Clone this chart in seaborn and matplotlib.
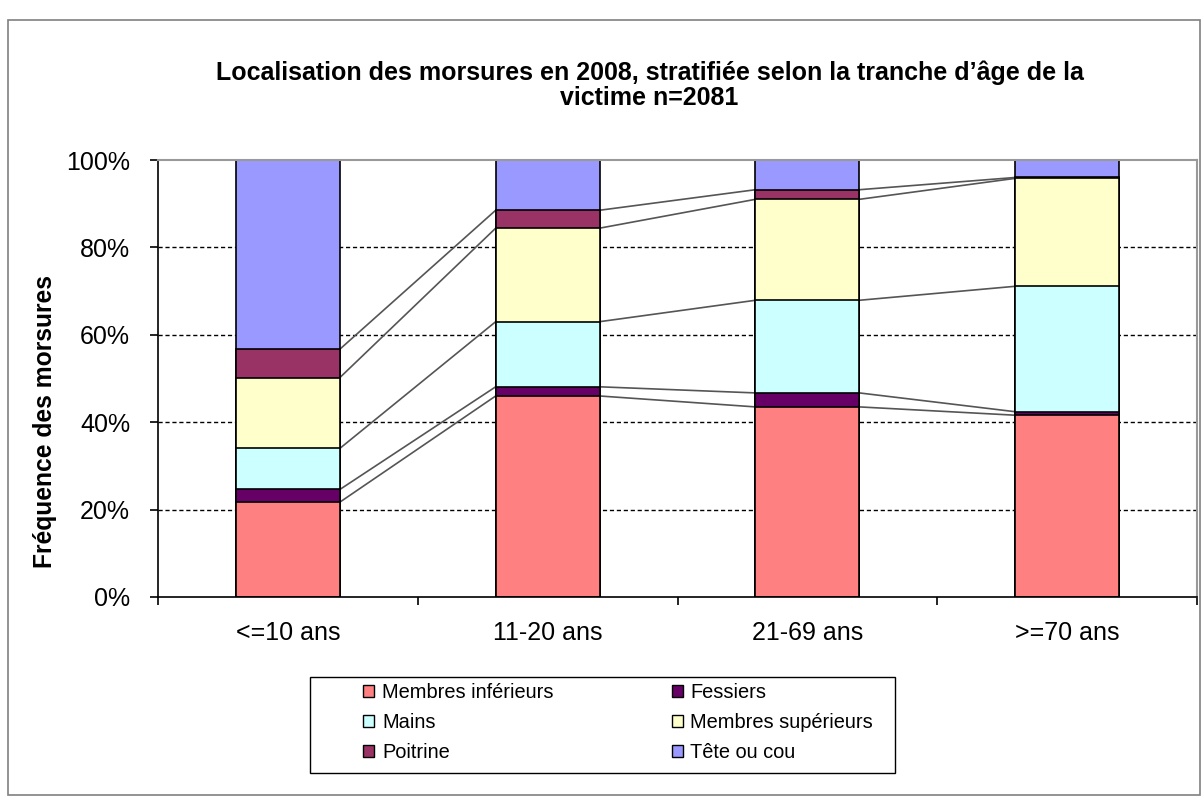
import numpy as np
import seaborn as sns
import matplotlib.pyplot as plt
from matplotlib.patches import Patch, Rectangle

groupes = ["<=10 ans", "11-20 ans", "21-69 ans", ">=70 ans"]
series = ["Membres inférieurs", "Fessiers", "Mains", "Membres supérieurs", "Poitrine", "Tête ou cou"]
membres_inf = [21.7, 46.0, 43.5, 41.6]
fessiers = [2.9, 2.1, 3.2, 0.8]
mains = [9.4, 14.9, 21.2, 28.7]
membres_sup = [16.2, 21.4, 23.1, 24.7]
poitrine = [6.5, 4.1, 2.2, 0.2]
tete_cou = [43.3, 11.5, 6.8, 4.0]
couleurs = ["#FF8080", "#660066", "#CCFFFF", "#FFFFCC", "#993366", "#9999FF"]

sns.set_style("white")
plt.rcParams["font.family"] = ["Liberation Sans", "DejaVu Sans"]
plt.rcParams["text.color"] = "black"
plt.rcParams["xtick.color"] = "black"
plt.rcParams["ytick.color"] = "black"

valeurs = np.array([membres_inf, fessiers, mains, membres_sup, poitrine, tete_cou])
cumul = valeurs.cumsum(axis=0)

fig = plt.figure(figsize=(12.03, 7.99), dpi=100)
ax = fig.add_axes([158 / 1203, 1 - 597 / 799, 1039 / 1203, 437 / 799])

# dashed gridlines behind everything
for yv in [20, 40, 60, 80]:
    ax.axhline(yv, color="black", lw=1, ls=(0, (3, 2)), zorder=0)

# stacked bars: draw the tallest cumulative first, then overlay the lower ones
for k in range(len(series) - 1, -1, -1):
    sns.barplot(x=groupes, y=cumul[k], color=couleurs[k], saturation=1, width=0.4,
                edgecolor="black", linewidth=1.2, ax=ax, zorder=2)

# series lines between bars
for k in range(len(series) - 1):
    for i in range(len(groupes) - 1):
        ax.plot([i + 0.2, i + 0.8], [cumul[k][i], cumul[k][i + 1]],
                color="#555555", lw=1.2, zorder=1)

ax.set_xlim(-0.5, 3.5)
ax.set_ylim(0, 100)
ax.set_yticks([0, 20, 40, 60, 80, 100])
ax.set_yticklabels([f"{v}%" for v in [0, 20, 40, 60, 80, 100]], fontsize=18)
ax.tick_params(axis="y", left=True, length=6, width=1.2, direction="out", pad=14)
ax.tick_params(axis="x", which="major", length=0, labelsize=18, pad=17)
ax.set_xticks([-0.5, 0.5, 1.5, 2.5, 3.5], minor=True)
ax.tick_params(axis="x", which="minor", bottom=True, length=6, width=1.2, direction="out")
ax.set_xlabel("")
ax.set_ylabel("")
for s in ["left", "bottom"]:
    ax.spines[s].set_color("black")
    ax.spines[s].set_linewidth(1.2)
for s in ["top", "right"]:
    ax.spines[s].set_color("#999999")
    ax.spines[s].set_linewidth(1.5)

fig.text(0.54, 1 - 85 / 799,
         "Localisation des morsures en 2008, stratifiée selon la tranche d\u2019âge de la\nvictime n=2081",
         ha="center", va="center", fontsize=18, fontweight="bold", linespacing=1.05)
fig.text(45 / 1203, 1 - 422 / 799, "Fréquence des morsures", rotation=90,
         ha="center", va="center", fontsize=17.7, fontweight="bold")

poignees = [Patch(facecolor=c, edgecolor="black", lw=1) for c in couleurs]
ordre = [0, 2, 4, 1, 3, 5]
leg = fig.legend([poignees[i] for i in ordre], [series[i] for i in ordre], ncol=2,
                 loc="upper left", bbox_to_anchor=(363 / 1203, 1 - 683 / 799),
                 fontsize=14.4, handlelength=0.55, handleheight=0.6, handletextpad=0.4,
                 columnspacing=5.9, labelspacing=0.55, borderpad=0, borderaxespad=0,
                 frameon=False)

fig.patches.append(Rectangle((310 / 1203, 1 - 773 / 799), 585 / 1203, 96 / 799,
                             transform=fig.transFigure, fill=False,
                             edgecolor="black", lw=1))
fig.patches.append(Rectangle((8 / 1203, 4 / 799), 1192 / 1203, 775 / 799,
                             transform=fig.transFigure, fill=False,
                             edgecolor="#808080", lw=1.2))

fig.savefig("out.png", dpi=100)
